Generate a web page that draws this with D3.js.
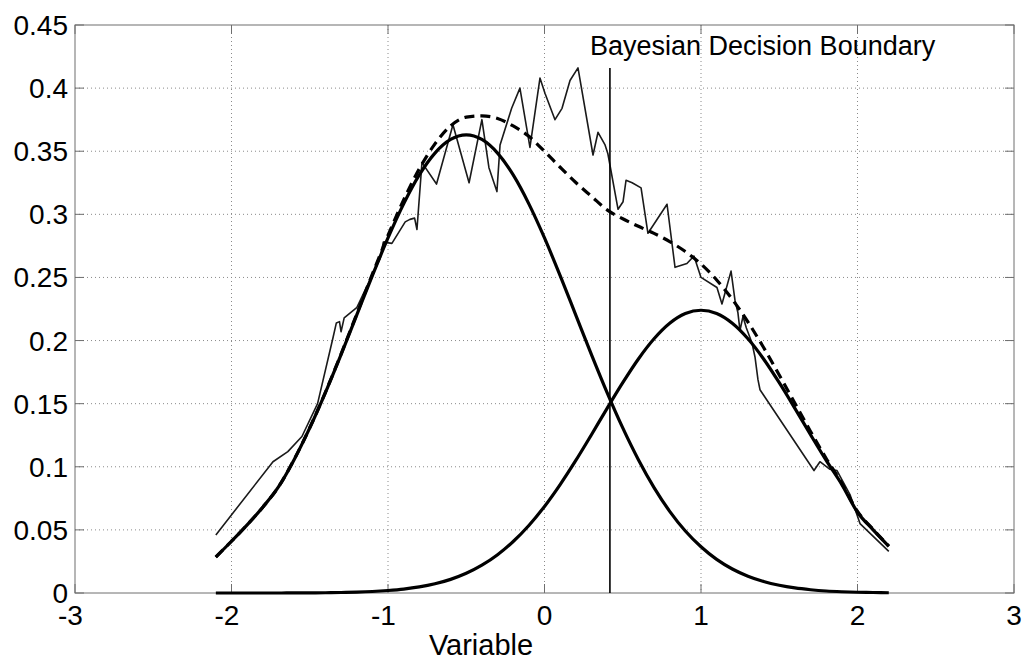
<!DOCTYPE html>
<html>
<head>
<meta charset="utf-8">
<script src="https://cdn.jsdelivr.net/npm/d3@7"></script>
<style>
  body { margin: 0; background: #fff; }
  text { font-family: "Liberation Sans", Arial, sans-serif; fill: #000; }
</style>
</head>
<body>
<div id="chart"></div>
<script>
const width = 1024;
const height = 662;

// sample positions for the fitted curves
const gridX = [-2.1, -2.0, -1.9, -1.8, -1.7, -1.6, -1.5, -1.4, -1.3, -1.2, -1.1, -1.0, -0.9, -0.8, -0.7, -0.6, -0.5, -0.4, -0.3, -0.2, -0.1,
  0.0, 0.1, 0.2, 0.3, 0.4, 0.5, 0.6, 0.7, 0.8, 0.9, 1.0, 1.1, 1.2, 1.3, 1.4, 1.5, 1.6, 1.7, 1.8, 1.9, 2.0, 2.1, 2.2];

const class1 = [0.0285, 0.041, 0.054, 0.068, 0.084, 0.1056, 0.1308, 0.1588, 0.1889, 0.2202, 0.2514, 0.2813, 0.3083, 0.3312, 0.3485, 0.3593, 0.363, 0.3593, 0.3485, 0.3312, 0.3083,
  0.2813, 0.2514, 0.2202, 0.1889, 0.1588, 0.1308, 0.1056, 0.0835, 0.0647, 0.0491, 0.0366, 0.0266, 0.019, 0.0133, 0.0091, 0.0061, 0.004, 0.0026, 0.0016, 0.001, 0.0006, 0.0004, 0.0002];

const class2 = [0, 0, 0, 0, 0, 0.0001, 0.0001, 0.0002, 0.0004, 0.0007, 0.0012, 0.002, 0.0031, 0.0048, 0.0073, 0.0108, 0.0156, 0.022, 0.0303, 0.0408, 0.0535,
  0.0686, 0.0859, 0.105, 0.1254, 0.1463, 0.1666, 0.1854, 0.2014, 0.2137, 0.2214, 0.224, 0.2214, 0.2137, 0.2014, 0.1854, 0.1666, 0.1463, 0.1254, 0.105, 0.0859, 0.064, 0.05, 0.037];

const mixture = [0.0285, 0.041, 0.054, 0.068, 0.084, 0.1057, 0.1309, 0.159, 0.1893, 0.2209, 0.2526, 0.2833, 0.3114, 0.336, 0.3558, 0.3701, 0.377, 0.378, 0.376, 0.370, 0.3618,
  0.3499, 0.3373, 0.3252, 0.3143, 0.3035, 0.2965, 0.2905, 0.2849, 0.2784, 0.2705, 0.2606, 0.248, 0.2327, 0.2147, 0.1945, 0.1727, 0.1503, 0.128, 0.1066, 0.0869, 0.0646, 0.0504, 0.0372];

// empirical (histogram) density
const empX = [-2.10, -1.735, -1.64, -1.55, -1.45, -1.35, -1.33, -1.31, -1.30, -1.28, -1.20, -1.10, -1.05, -1.03, -0.975, -0.89, -0.86, -0.83, -0.815, -0.783,
  -0.69, -0.585, -0.482, -0.40, -0.355, -0.304, -0.284, -0.21, -0.157, -0.093, -0.029, 0.003, 0.067, 0.112, 0.163, 0.214, 0.310, 0.342, 0.387, 0.405,
  0.470, 0.502, 0.521, 0.56, 0.617, 0.661, 0.783, 0.834, 0.885, 0.910, 0.955, 1.0, 1.102, 1.134, 1.192, 1.217, 1.236, 1.249, 1.268, 1.29,
  1.326, 1.345, 1.364, 1.377, 1.722, 1.760, 1.824, 1.869, 1.952, 2.016, 2.20];
const empY = [0.046, 0.104, 0.112, 0.124, 0.150, 0.203, 0.214, 0.215, 0.207, 0.218, 0.226, 0.252, 0.265, 0.278, 0.277, 0.294, 0.296, 0.297, 0.288, 0.341,
  0.324, 0.371, 0.325, 0.375, 0.337, 0.318, 0.355, 0.384, 0.400, 0.353, 0.408, 0.396, 0.375, 0.384, 0.406, 0.416, 0.347, 0.365, 0.355, 0.348,
  0.304, 0.310, 0.327, 0.325, 0.321, 0.285, 0.308, 0.258, 0.260, 0.261, 0.267, 0.250, 0.242, 0.229, 0.255, 0.232, 0.222, 0.208, 0.219, 0.210,
  0.198, 0.187, 0.169, 0.161, 0.097, 0.104, 0.098, 0.097, 0.078, 0.055, 0.033];

const boundaryX = 0.418;
const boundaryTop = 0.416;
const boundaryLabel = "Bayesian Decision Boundary";

const xTicks = [-3, -2, -1, 0, 1, 2, 3];
const yTicks = [0, 0.05, 0.1, 0.15, 0.2, 0.25, 0.3, 0.35, 0.4, 0.45];
const yTickLabels = ["0", "0.05", "0.1", "0.15", "0.2", "0.25", "0.3", "0.35", "0.4", "0.45"];
const xLabel = "Variable";

const plotLeft = 75, plotRight = 1014, plotTop = 25, plotBottom = 593;

const x = d3.scaleLinear().domain([-3, 3]).range([plotLeft, plotRight]);
const y = d3.scaleLinear().domain([0, 0.45]).range([plotBottom, plotTop]);

const svg = d3.select("#chart")
  .append("svg")
  .attr("width", width)
  .attr("height", height);

// dotted grid
svg.append("g")
  .selectAll("line")
  .data(xTicks.slice(1, -1))
  .enter().append("line")
  .attr("x1", d => x(d)).attr("x2", d => x(d))
  .attr("y1", plotTop).attr("y2", plotBottom)
  .attr("stroke", "#8a8a8a")
  .attr("stroke-width", 1)
  .attr("stroke-dasharray", "1,3");

svg.append("g")
  .selectAll("line")
  .data(yTicks.slice(1, -1))
  .enter().append("line")
  .attr("x1", plotLeft).attr("x2", plotRight)
  .attr("y1", d => y(d)).attr("y2", d => y(d))
  .attr("stroke", "#8a8a8a")
  .attr("stroke-width", 1)
  .attr("stroke-dasharray", "1,3");

// box and inward ticks
const tickLen = 9;
svg.append("rect")
  .attr("x", plotLeft).attr("y", plotTop)
  .attr("width", plotRight - plotLeft).attr("height", plotBottom - plotTop)
  .attr("fill", "none")
  .attr("stroke", "#6e6e6e")
  .attr("stroke-width", 1);

const ticks = svg.append("g").attr("stroke", "#6e6e6e").attr("stroke-width", 1);
xTicks.forEach(d => {
  ticks.append("line").attr("x1", x(d)).attr("x2", x(d)).attr("y1", plotBottom).attr("y2", plotBottom - tickLen);
  ticks.append("line").attr("x1", x(d)).attr("x2", x(d)).attr("y1", plotTop).attr("y2", plotTop + tickLen);
});
yTicks.forEach(d => {
  ticks.append("line").attr("x1", plotLeft).attr("x2", plotLeft + tickLen).attr("y1", y(d)).attr("y2", y(d));
  ticks.append("line").attr("x1", plotRight).attr("x2", plotRight - tickLen).attr("y1", y(d)).attr("y2", y(d));
});

// tick labels
svg.append("g")
  .selectAll("text")
  .data(xTicks)
  .enter().append("text")
  .attr("x", d => x(d))
  .attr("dx", d => d < 0 ? -4.5 : 0)
  .attr("y", plotBottom + 32)
  .attr("text-anchor", "middle")
  .style("font-size", "28px")
  .text(d => String(d));

svg.append("g")
  .selectAll("text")
  .data(yTicks)
  .enter().append("text")
  .attr("x", plotLeft - 7)
  .attr("y", d => y(d) + 10)
  .attr("text-anchor", "end")
  .style("font-size", "28px")
  .text((d, i) => yTickLabels[i]);

svg.append("text")
  .attr("x", 481)
  .attr("y", 655)
  .attr("text-anchor", "middle")
  .style("font-size", "29px")
  .text(xLabel);

// curves
const curveLine = d3.line()
  .x(d => x(d[0]))
  .y(d => y(d[1]))
  .curve(d3.curveMonotoneX);

const empLine = d3.line()
  .x(d => x(d[0]))
  .y(d => y(d[1]));

svg.append("path")
  .datum(empX.map((d, i) => [d, empY[i]]))
  .attr("d", empLine)
  .attr("fill", "none")
  .attr("stroke", "#1a1a1a")
  .attr("stroke-width", 1.6)
  .attr("stroke-linejoin", "round");

svg.append("path")
  .datum(gridX.map((d, i) => [d, class1[i]]))
  .attr("d", curveLine)
  .attr("fill", "none")
  .attr("stroke", "#000")
  .attr("stroke-width", 3.2);

svg.append("path")
  .datum(gridX.map((d, i) => [d, class2[i]]))
  .attr("d", curveLine)
  .attr("fill", "none")
  .attr("stroke", "#000")
  .attr("stroke-width", 3.2);

svg.append("path")
  .datum(gridX.map((d, i) => [d, mixture[i]]))
  .attr("d", curveLine)
  .attr("fill", "none")
  .attr("stroke", "#000")
  .attr("stroke-width", 3.2)
  .attr("stroke-dasharray", "10,6");

// decision boundary
svg.append("line")
  .attr("x1", x(boundaryX)).attr("x2", x(boundaryX))
  .attr("y1", y(0)).attr("y2", y(boundaryTop))
  .attr("stroke", "#000")
  .attr("stroke-width", 1.6);

svg.append("text")
  .attr("x", 590)
  .attr("y", 55)
  .style("font-size", "27px")
  .text(boundaryLabel);
</script>
</body>
</html>
